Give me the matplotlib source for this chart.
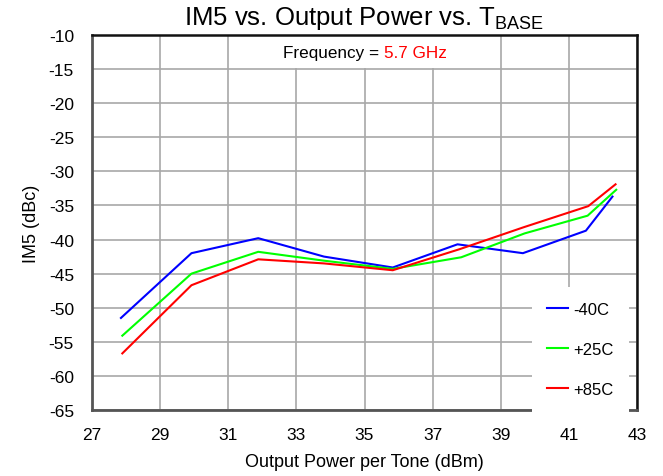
import matplotlib
matplotlib.use("Agg")
import matplotlib.pyplot as plt
from matplotlib.patches import Rectangle
from matplotlib.offsetbox import TextArea, HPacker, AnnotationBbox

plt.rcParams['font.family'] = ['Liberation Sans', 'DejaVu Sans']
plt.rcParams['axes.unicode_minus'] = False

# Output power per tone (dBm) and IM5 (dBc) for each base temperature
pout_m40 = [27.85, 29.92, 31.88, 33.81, 35.83, 37.73, 39.65, 41.50, 42.28]
im5_m40 = [-51.5, -42.0, -39.8, -42.5, -44.1, -40.7, -42.0, -38.7, -33.7]

pout_p25 = [27.89, 29.92, 31.88, 33.81, 35.83, 37.84, 39.70, 41.55, 42.39]
im5_p25 = [-54.1, -45.0, -41.8, -43.1, -44.3, -42.6, -39.1, -36.5, -32.7]

pout_p85 = [27.89, 29.92, 31.88, 33.81, 35.83, 37.80, 39.67, 41.57, 42.37]
im5_p85 = [-56.7, -46.7, -42.9, -43.5, -44.5, -41.4, -38.2, -35.1, -31.9]

series_labels = ['-40C', '+25C', '+85C']
series_colors = ['#0000ff', '#00ff00', '#ff0000']

x_ticks = list(range(27, 44, 2))
y_ticks = list(range(-65, -9, 5))

fig = plt.figure(figsize=(6.63, 4.77), dpi=100)
ax = fig.add_axes([92 / 663, 1 - 411 / 477, 545 / 663, 375 / 477])

for xs, ys, lab, col in zip([pout_m40, pout_p25, pout_p85],
                            [im5_m40, im5_p25, im5_p85],
                            series_labels, series_colors):
    ax.plot(xs, ys, color=col, lw=1.5, label=lab, zorder=3)

ax.set_xlim(27, 43)
ax.set_ylim(-65, -10)
ax.set_xticks(x_ticks)
ax.set_yticks(y_ticks)
ax.tick_params(axis='both', length=0, labelsize=12.5)
ax.tick_params(axis='x', pad=12)
ax.tick_params(axis='y', pad=13)

ax.grid(True, color='#a8a8a8', lw=1.2, zorder=0)
ax.set_axisbelow(True)

for side in ['left', 'bottom']:
    ax.spines[side].set_color('#555555')
    ax.spines[side].set_linewidth(2.0)
for side in ['top', 'right']:
    ax.spines[side].set_color('#111111')
    ax.spines[side].set_linewidth(1.8)

ax.set_title('IM5 vs. Output Power vs. T$_{\\mathregular{BASE}}$', fontsize=18.5, pad=8)
ax.set_xlabel('Output Power per Tone (dBm)', fontsize=13, labelpad=8)
ax.set_ylabel('IM5 (dBc)', fontsize=13, labelpad=6)

# White patch behind the frequency note, sitting above the -15 grid line
ax.add_patch(Rectangle((32.3, -14.82), 5.4, 4.82, facecolor='white',
                       edgecolor='none', zorder=1))

# Frequency annotation in two colours
freq_box = HPacker(children=[
    TextArea('Frequency = ', textprops=dict(color='black', fontsize=12.3)),
    TextArea('5.7 GHz', textprops=dict(color='#ff0000', fontsize=12.3)),
], align='baseline', pad=0, sep=0)
ab = AnnotationBbox(freq_box, (35.0, -12.55), xycoords='data', frameon=False,
                    pad=0, box_alignment=(0.5, 0.5))
ab.set_zorder(2)
ax.add_artist(ab)

leg = ax.legend(loc='upper left', bbox_to_anchor=(0.807, 0.328),
                frameon=True, fancybox=False, framealpha=1.0,
                facecolor='white', edgecolor='none', fontsize=12,
                handlelength=1.3, handletextpad=0.3, labelspacing=1.5,
                borderpad=0.9, borderaxespad=0.0)
leg.set_zorder(4)

fig.savefig('out.png', dpi=100)
